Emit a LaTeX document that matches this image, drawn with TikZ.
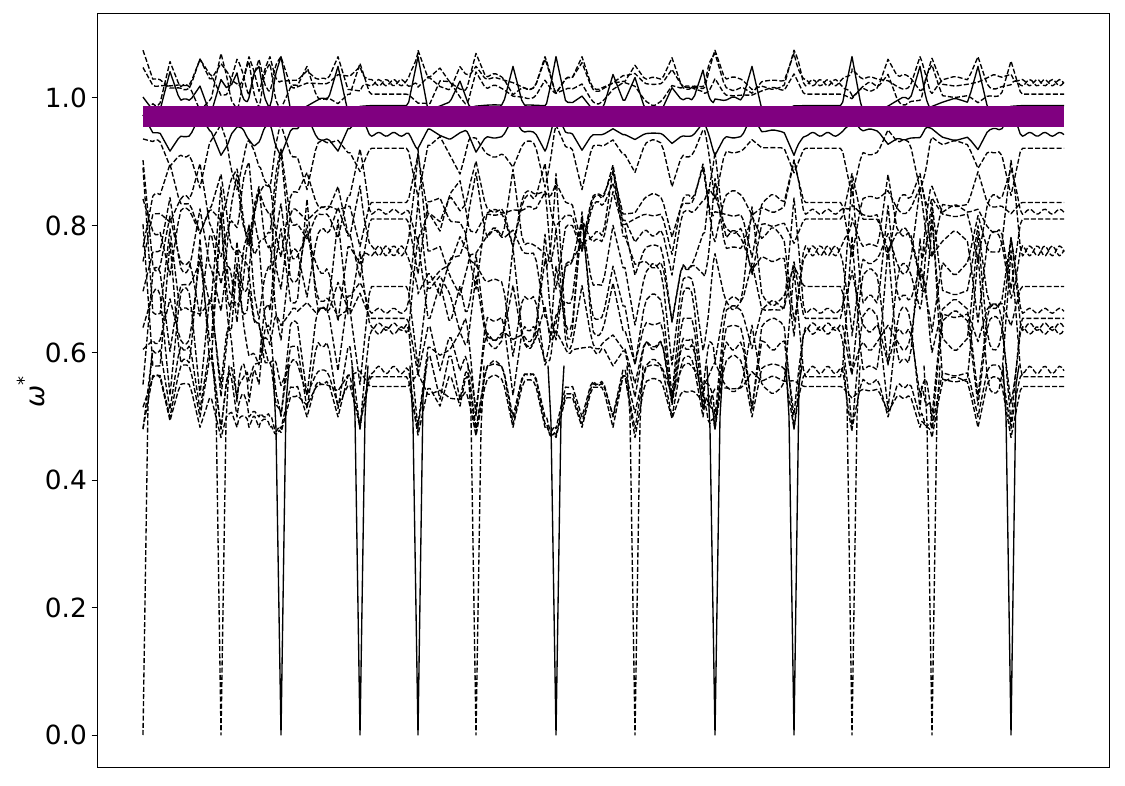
\documentclass[tikz,border=0pt]{standalone}
\usepackage{fontspec}
\setmainfont{DejaVu Sans}
\definecolor{mplpurple}{RGB}{128,0,128}
\begin{document}
\begin{tikzpicture}[x=1pt,y=1pt,
  declare function={
    rr(\ka,\ja)=sin(\ka*83.7+\ja*137.3+\ka*\ja*13.1);
    rq(\ka,\ja)=cos(\ka*57.1+\ja*101.9+\ka*\ja*17.3);
    cl(\rv)=max(-1,min(1,\rv));
    sp(\rv,\bv,\lv,\uv)=\rv*((\uv-\bv)*(\rv>0)+(\bv-\lv)*(1-(\rv>0)));
    tri(\dv)=max(0,1-\dv/10);
  },
  dsh/.style={line width=1.35pt, dash pattern=on 5pt off 2.2pt, line join=round},
  sld/.style={line width=1.35pt, line join=round},
  lbl/.style={font=\fontsize{26.4}{30}\selectfont, inner sep=0pt},
]
\useasboundingbox (0,0) rectangle (1125,785);
\begin{scope}[y=637pt, yshift=50pt]
% dispersion-like bands
\foreach \kk/\bb/\LL/\UU/\bi/\CC/\WW/\st in {
  1/1.024/0.99/1.075/0.5/0.012/0.005/dsh,
  2/1.024/0.99/1.070/0.3/0.015/-0.005/dsh,
  3/1.006/0.96/1.070/0.2/0.020/0.0/dsh,
  4/0.988/0.985/1.065/0.6/0.015/0.0/sld,
  5/0.943/0.91/0.99/-0.2/0.010/0.003/sld,
  6/0.921/0.84/0.99/-0.4/0.015/0.0/dsh,
  7/0.836/0.75/0.92/-0.1/0.020/0.0/dsh,
  8/0.8215/0.72/0.92/0.0/0.030/0.004/dsh,
  9/0.810/0.70/0.90/-0.2/0.030/0.0/dsh,
  10/0.760/0.62/0.92/0.0/0.040/0.008/dsh,
  11/0.760/0.62/0.90/-0.1/0.040/-0.008/dsh,
  12/0.704/0.55/0.90/-0.2/0.040/0.0/dsh,
  13/0.666/0.50/0.92/-0.3/0.040/0.004/dsh,
  14/0.654/0.49/0.95/-0.2/0.040/0.0/dsh,
  15/0.641/0.48/0.90/-0.3/0.040/0.006/dsh,
  16/0.635/0.48/0.88/-0.4/0.040/-0.006/dsh,
  17/0.573/0.47/0.90/-0.6/0.030/0.006/dsh,
  18/0.5625/0.47/0.95/-0.3/0.030/0.0/dsh,
  19/0.547/0.467/0.85/-0.9/0.020/0.0/dsh}{
  \draw[\st] (143,{\bb+sp(cl(rr(\kk,0)+(\bi)),\bb,\LL,\UU)})
  \foreach \pa/\pb/\jj/\sa/\sb/\fl/\ns in {
    143/170/0/1/0.8/0/12, 170/200/1/0.8/0.8/0/12, 200/221/2/0.8/1/0/12,
    221/237/3/1/0.8/0/10, 237/249/4/0.8/0.8/0/8, 249/259/5/0.8/0.8/0/8,
    259/270/6/0.8/0.8/0/8, 270/281/7/0.8/1/0/8, 281/307/8/1/0.8/0/12,
    307/338/9/0.8/0.8/0/12, 338/360/10/0.8/1/0/12, 360/418/11/1/1/1/26,
    418/440/12/1/0.5/0/12, 440/460/13/0.5/0.5/0/10, 460/476/14/0.5/1/0/10,
    476/513/15/1/0.8/0/14, 513/545/16/0.8/0.8/0/12, 545/556/17/0.8/1/0/8,
    556/582/18/1/0.8/0/12, 582/613/19/0.8/0.8/0/12, 613/635/20/0.8/1/0/12,
    635/672/21/1/0.8/0/14, 672/703/22/0.8/0.8/0/12, 703/715/23/0.8/1/0/8,
    715/752/24/1/0.8/0/14, 752/794/25/0.8/1/0/14, 794/852/26/1/1/1/26,
    852/888/27/1/0.8/0/14, 888/920/28/0.8/0.8/0/12, 920/932/29/0.8/1/0/8,
    932/978/30/1/0.8/0/14, 978/1011/31/0.8/1/0/12, 1011/1064/32/1/0/1/24}{
    -- plot[variable=\q, domain=0:1, samples=\ns]
      ({\pa+\q*(\pb-\pa)},
       {\bb+(1-\fl)*(\CC)*rq(\kk,\jj)*(1-abs(2*\q-1))
        +\sa*sp(cl(rr(\kk,\jj)+(\bi)),\bb,\LL,\UU)*tri(\q*(\pb-\pa))
        +\sb*sp(cl(rr(\kk,\jj+1)+(\bi)),\bb,\LL,\UU)*tri((1-\q)*(\pb-\pa))
        +\fl*(\WW)*sin(\q*(\pb-\pa)*24)})
  };
}
% acoustic branches going to zero
\draw[dsh] (143,0) -- (148,0.52) -- (152,0.60);
\foreach \d/\st/\ta/\tb in {221/dsh/0.52/0.49, 281/sld/0.48/0.52, 360/sld/0.50/0.50,
  418/sld/0.49/0.53, 476/dsh/0.50/0.48, 556/sld/0.49/0.50, 635/dsh/0.50/0.49,
  715/sld/0.48/0.50, 794/sld/0.50/0.55, 852/dsh/0.52/0.50, 932/dsh/0.49/0.51,
  1011/sld/0.50/0.55}{
  \draw[\st] (\d-8,0.58) -- (\d-5,\ta) -- (\d,0) -- (\d+5,\tb) -- (\d+8,0.58);
}
% highlighted band
\fill[mplpurple] (143,0.9545) rectangle (1064,0.9874);
% axes
\draw[line width=1pt] (97,-0.0518) rectangle (1109,1.1319);
\foreach \v in {0.0,0.2,0.4,0.6,0.8,1.0}{
  \draw[line width=1pt] (91.5,\v) -- (97,\v);
  \node[lbl, anchor=east] at (87,\v) {\v};
}
\node[lbl, rotate=90] at (31,0.5385) {{\itshape ω}\raisebox{0.55em}{\fontsize{18}{18}\selectfont *}};
\end{scope}
\end{tikzpicture}
\end{document}
